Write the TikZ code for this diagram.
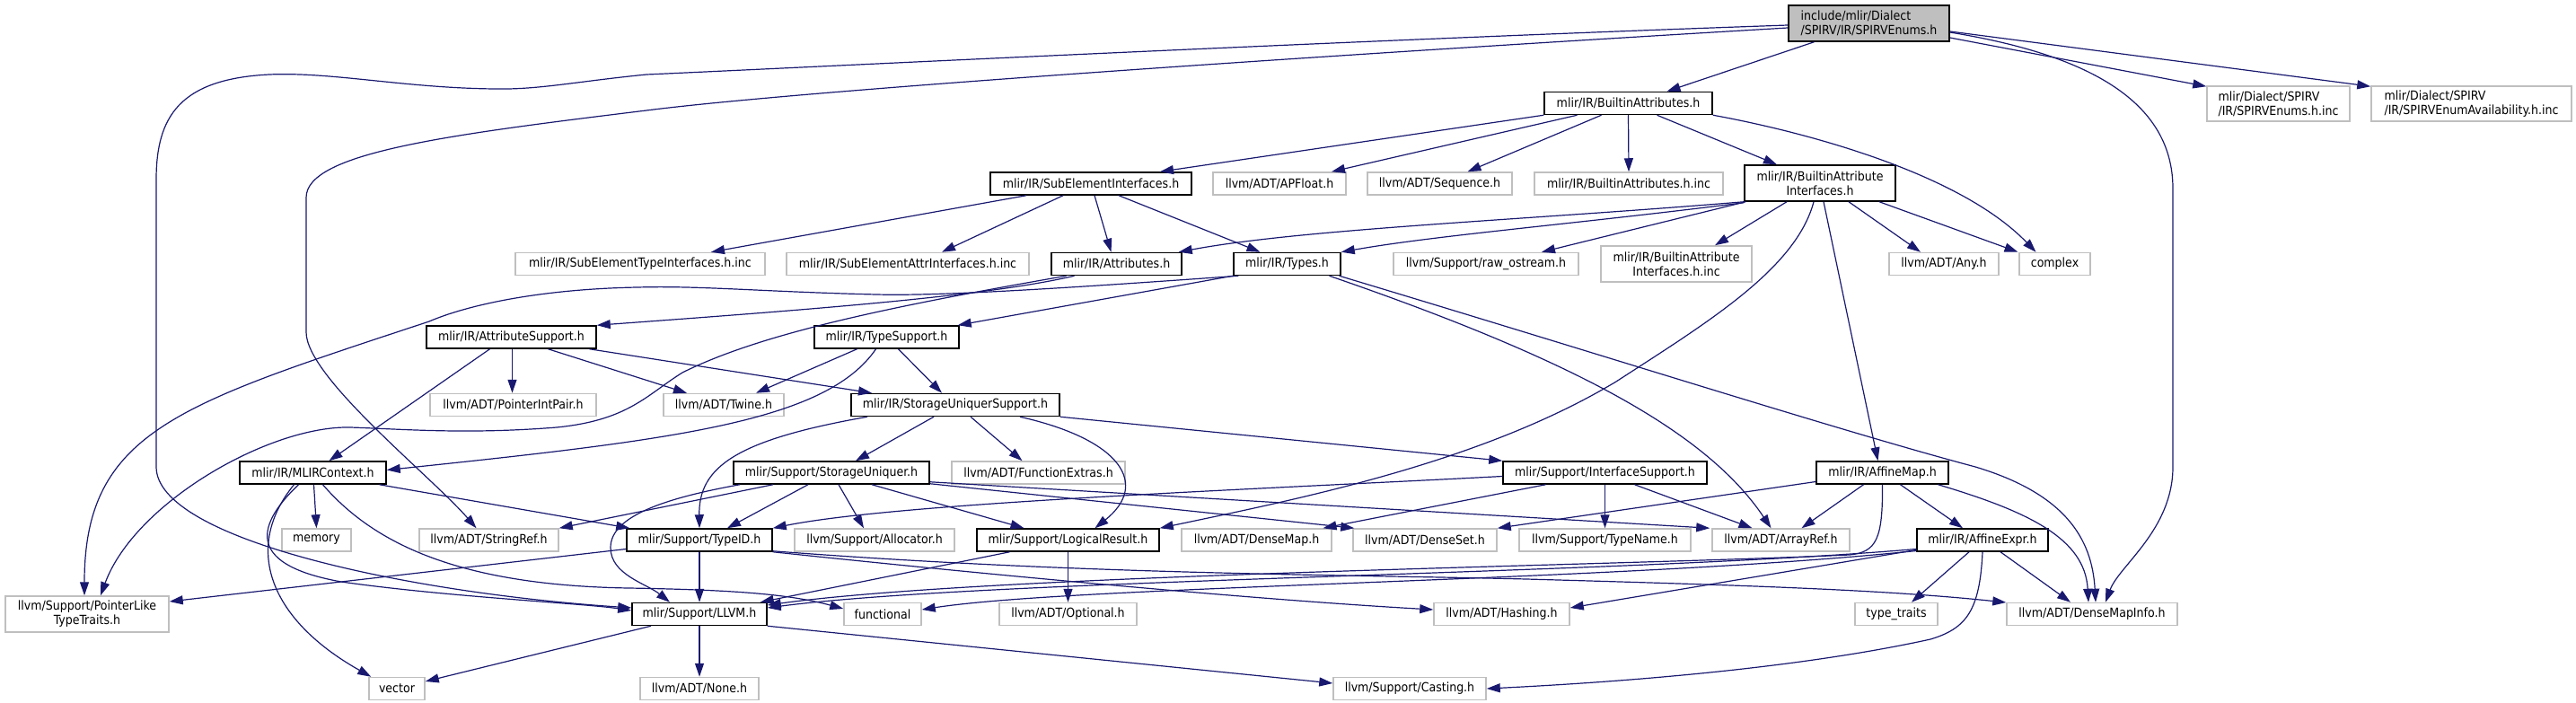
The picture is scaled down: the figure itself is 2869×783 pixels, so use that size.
\documentclass[tikz,border=0pt]{standalone}
\usepackage{fontspec}
\setmainfont{DejaVu Sans Condensed}
\usetikzlibrary{arrows.meta}
\definecolor{edgeblue}{RGB}{25,25,112}
\definecolor{boxgrey}{RGB}{191,191,191}

\begin{document}
\begin{tikzpicture}[x=1pt, y=-1pt,
    file/.style={draw=black, line width=1.5pt, fill=white, inner sep=0pt, minimum height=25pt, font=\fontsize{14}{16}\selectfont},
    extfile/.style={file, draw=boxgrey},
    topfile/.style={file, fill=boxgrey},
    dep/.style={draw=edgeblue, line width=1.2pt, -{Triangle[length=15pt,width=10pt]}}]
  \useasboundingbox (0,0) rectangle (2869,783);

  % include files
  \node[topfile, minimum width=179pt, minimum height=40pt, align=left] (main) at (2081.5,26) {include/mlir/Dialect\\/SPIRV/IR/SPIRVEnums.h};
  \node[file, minimum width=187pt] (bat) at (1813.5,115) {mlir/IR/BuiltinAttributes.h};
  \node[extfile, minimum width=159pt, minimum height=39pt, align=left] (spvinc) at (2537.5,115.5) {mlir/Dialect/SPIRV\\/IR/SPIRVEnums.h.inc};
  \node[extfile, minimum width=223pt, minimum height=39pt, align=left] (spvavail) at (2752.5,115.5) {mlir/Dialect/SPIRV\\/IR/SPIRVEnumAvailability.h.inc};
  \node[file, minimum width=224pt] (sei) at (1215,204.5) {mlir/IR/SubElementInterfaces.h};
  \node[extfile, minimum width=148pt] (apfloat) at (1425,204.5) {llvm/ADT/APFloat.h};
  \node[extfile, minimum width=161pt] (sequence) at (1603.5,204.5) {llvm/ADT/Sequence.h};
  \node[extfile, minimum width=210pt] (batinc) at (1814,204.5) {mlir/IR/BuiltinAttributes.h.inc};
  \node[file, minimum width=168pt, minimum height=40pt, align=center] (bai) at (2027,204) {mlir/IR/BuiltinAttribute\\Interfaces.h};
  \node[extfile, minimum width=278pt] (setinc) at (713,294) {mlir/IR/SubElementTypeInterfaces.h.inc};
  \node[extfile, minimum width=270pt] (seainc) at (1011,294) {mlir/IR/SubElementAttrInterfaces.h.inc};
  \node[file, minimum width=145pt] (attrs) at (1243.5,294) {mlir/IR/Attributes.h};
  \node[file, minimum width=119pt] (types) at (1433.5,294) {mlir/IR/Types.h};
  \node[extfile, minimum width=206pt] (rawos) at (1655,294) {llvm/Support/raw\_ostream.h};
  \node[extfile, minimum width=168pt, minimum height=40pt, align=center] (baiinc) at (1867,294) {mlir/IR/BuiltinAttribute\\Interfaces.h.inc};
  \node[extfile, minimum width=122pt] (any) at (2165,294) {llvm/ADT/Any.h};
  \node[extfile, minimum width=79pt] (complex) at (2288.5,294) {complex};
  \node[file, minimum width=189pt] (attrsup) at (569.5,375.5) {mlir/IR/AttributeSupport.h};
  \node[file, minimum width=161pt] (typesup) at (987.5,375.5) {mlir/IR/TypeSupport.h};
  \node[extfile, minimum width=185pt] (pip) at (571.5,451) {llvm/ADT/PointerIntPair.h};
  \node[extfile, minimum width=134pt] (twine) at (806,451) {llvm/ADT/Twine.h};
  \node[file, minimum width=232pt] (sus) at (1064,451) {mlir/IR/StorageUniquerSupport.h};
  \node[file, minimum width=163pt] (mlirctx) at (348.5,526.5) {mlir/IR/MLIRContext.h};
  \node[file, minimum width=218pt] (su) at (926,526.5) {mlir/Support/StorageUniquer.h};
  \node[extfile, minimum width=193pt] (funcext) at (1156.5,526.5) {llvm/ADT/FunctionExtras.h};
  \node[file, minimum width=227pt] (ifsup) at (1787.5,526.5) {mlir/Support/InterfaceSupport.h};
  \node[file, minimum width=147pt] (affmap) at (2096.5,526.5) {mlir/IR/AffineMap.h};
  \node[extfile, minimum width=77pt] (memory) at (352.5,601.5) {memory};
  \node[extfile, minimum width=155pt] (stringref) at (544.5,601.5) {llvm/ADT/StringRef.h};
  \node[file, minimum width=162pt] (typeid) at (779,601.5) {mlir/Support/TypeID.h};
  \node[extfile, minimum width=178pt] (alloc) at (974,601.5) {llvm/Support/Allocator.h};
  \node[file, minimum width=203pt] (logres) at (1189.5,601.5) {mlir/Support/LogicalResult.h};
  \node[extfile, minimum width=167pt] (densemap) at (1399.5,601.5) {llvm/ADT/DenseMap.h};
  \node[extfile, minimum width=160pt] (denseset) at (1587,601.5) {llvm/ADT/DenseSet.h};
  \node[extfile, minimum width=191pt] (typename) at (1787.5,601.5) {llvm/Support/TypeName.h};
  \node[extfile, minimum width=153pt] (arrayref) at (1983.5,601.5) {llvm/ADT/ArrayRef.h};
  \node[file, minimum width=146pt] (affexpr) at (2208,601.5) {mlir/IR/AffineExpr.h};
  \node[extfile, minimum width=182pt, minimum height=40pt, align=center] (ptrlike) at (97,684) {llvm/Support/PointerLike\\TypeTraits.h};
  \node[file, minimum width=150pt] (llvm) at (779,684) {mlir/Support/LLVM.h};
  \node[extfile, minimum width=86pt] (functional) at (983,684) {functional};
  \node[extfile, minimum width=153pt] (optional) at (1189.5,684) {llvm/ADT/Optional.h};
  \node[extfile, minimum width=151pt] (hashing) at (1672.5,684) {llvm/ADT/Hashing.h};
  \node[extfile, minimum width=92pt] (typetraits) at (2112,684) {type\_traits};
  \node[extfile, minimum width=190pt] (dmi) at (2330,684) {llvm/ADT/DenseMapInfo.h};
  \node[extfile, minimum width=62pt] (vector) at (442,767) {vector};
  \node[extfile, minimum width=132pt] (none) at (779,767) {llvm/ADT/None.h};
  \node[extfile, minimum width=170pt] (casting) at (1570,767) {llvm/Support/Casting.h};

  % SPIRVEnums.h
  \draw[dep] ([xshift=-61pt]main.south) -- ([xshift=43pt]bat.north);
  \draw[dep] ([yshift=-16pt]main.east) -- ([yshift=-1pt]spvinc.north west);
  \draw[dep] ([yshift=-9pt]main.east) -- ([yshift=-1pt]spvavail.north west);
  \draw[dep] ([yshift=-10pt]main.east) .. controls (2320,60) and (2420,110) .. (2420,210) -- (2420,520) .. controls (2420,590) and (2360,630) .. ([xshift=15pt]dmi.north);
  \draw[dep] ([yshift=-2pt]main.west) .. controls (1500,45) and (900,75) .. (720,83) .. controls (640,91) and (600,100) .. (551,99) .. controls (450,98) and (370,80) .. (300,83) .. controls (200,88) and (174,130) .. (174,200) -- (174,520) .. controls (174,600) and (450,660) .. ([yshift=7pt]llvm.west);
  \draw[dep] ([yshift=-5pt]main.west) .. controls (1500,60) and (900,100) .. (720,123) .. controls (500,150) and (341,170) .. (341,220) -- (341,370) .. controls (341,420) and (480,530) .. ([xshift=-14pt]stringref.north);

  % BuiltinAttributes.h
  \draw[dep] (bat.south west) -- ([xshift=77pt]sei.north);
  \draw[dep] ([xshift=-57pt]bat.south) -- ([xshift=58pt]apfloat.north);
  \draw[dep] ([xshift=-30pt]bat.south) -- ([xshift=31pt]sequence.north);
  \draw[dep] (bat.south) -- (batinc.north);
  \draw[dep] ([xshift=32pt]bat.south) -- ([xshift=-48pt]bai.north);
  \draw[dep] (bat.south east) .. controls (2000,145) and (2180,190) .. ([xshift=-21pt]complex.north);

  % BuiltinAttributeInterfaces.h
  \draw[dep] (bai.south west) .. controls (1700,245) and (1450,255) .. ([xshift=-4pt]attrs.north east);
  \draw[dep] ([yshift=-1pt]bai.south west) .. controls (1750,250) and (1600,262) .. (types.north east);
  \draw[dep] ([xshift=2pt]bai.south west) -- ([xshift=62pt]rawos.north);
  \draw[dep] ([xshift=-37pt]bai.south) -- ([xshift=43pt]baiinc.north);
  \draw[dep] ([xshift=-7pt]bai.south) .. controls (2000,300) and (1900,360) .. (1800,425) .. controls (1650,515) and (1450,555) .. (logres.north east);
  \draw[dep] ([xshift=4pt]bai.south) -- ([xshift=-5pt]affmap.north);
  \draw[dep] ([xshift=32pt]bai.south) -- ([xshift=-26pt]any.north);
  \draw[dep] ([xshift=66pt]bai.south) -- ([xshift=-41pt]complex.north);

  % SubElementInterfaces.h
  \draw[dep] ([xshift=-72pt]sei.south) -- ([xshift=79pt]setinc.north);
  \draw[dep] ([xshift=-31pt]sei.south) -- ([xshift=38pt]seainc.north);
  \draw[dep] ([xshift=4pt]sei.south) -- ([xshift=-6pt]attrs.north);
  \draw[dep] ([xshift=31pt]sei.south) -- ([xshift=-30pt]types.north);

  % Types.h and Attributes.h
  \draw[dep] (types.south west) -- ([xshift=-2pt]typesup.north east);
  \draw[dep] ([xshift=6pt]types.south west) .. controls (1200,320) and (1050,330) .. (976,328) .. controls (850,325) and (780,318) .. (710,320) .. controls (600,322) and (520,340) .. (478,358) .. controls (200,450) and (94,480) .. ([xshift=-3pt]ptrlike.north);
  \draw[dep] ([xshift=47pt]types.south) .. controls (1750,400) and (1900,480) .. ([xshift=-11pt]arrayref.north);
  \draw[dep] ([xshift=58pt]types.south) .. controls (1800,400) and (2050,480) .. (2200,520) .. controls (2300,550) and (2330,600) .. ([xshift=4pt]dmi.north);
  \draw[dep] ([xshift=-47pt]attrs.south) .. controls (1100,330) and (900,345) .. (attrsup.north east);
  \draw[dep] ([xshift=-56pt]attrs.south) .. controls (1000,340) and (850,370) .. (760,415) .. controls (720,440) and (700,468) .. (620,476) .. controls (520,484) and (450,478) .. (390,476) .. controls (300,474) and (150,560) .. ([xshift=15pt]ptrlike.north);

  % AttributeSupport.h and TypeSupport.h
  \draw[dep] ([xshift=1pt]attrsup.south) -- ([xshift=-1pt]pip.north);
  \draw[dep] ([xshift=-24pt]attrsup.south) -- ([xshift=18pt]mlirctx.north);
  \draw[dep] ([xshift=41pt]attrsup.south) -- ([xshift=-41pt]twine.north);
  \draw[dep] ([xshift=87pt]attrsup.south) -- ([xshift=-93pt]sus.north);
  \draw[dep] ([xshift=-33pt]typesup.south) -- ([xshift=36pt]twine.north);
  \draw[dep] ([xshift=13pt]typesup.south) -- ([xshift=-15pt]sus.north);
  \draw[dep] ([xshift=-12pt]typesup.south) .. controls (920,470) and (750,490) .. ([yshift=3pt]mlirctx.east);

  % StorageUniquerSupport.h
  \draw[dep] ([xshift=-98pt]sus.south) .. controls (820,490) and (778,520) .. (typeid.north);
  \draw[dep] ([xshift=-24pt]sus.south) -- ([xshift=27pt]su.north);
  \draw[dep] ([xshift=17pt]sus.south) -- ([xshift=-18pt]funcext.north);
  \draw[dep] ([xshift=72pt]sus.south) .. controls (1250,490) and (1280,540) .. ([xshift=30pt]logres.north);
  \draw[dep] (sus.south east) -- (ifsup.north west);

  % StorageUniquer.h
  \draw[dep] ([xshift=-65pt]su.south) -- (stringref.north east);
  \draw[dep] ([xshift=-102pt]su.south) .. controls (740,555) and (680,575) .. (680,610) .. controls (680,640) and (720,650) .. ([xshift=-33pt]llvm.north);
  \draw[dep] ([xshift=-26pt]su.south) -- ([xshift=31pt]typeid.north);
  \draw[dep] ([xshift=8pt]su.south) -- ([xshift=-12pt]alloc.north);
  \draw[dep] ([xshift=45pt]su.south) -- ([xshift=-49pt]logres.north);
  \draw[dep] ([yshift=1pt]su.south east) -- ([xshift=2pt]denseset.north west);
  \draw[dep] ([yshift=3pt]su.south east) -- ([xshift=-2pt]arrayref.north west);

  % InterfaceSupport.h
  \draw[dep] ([yshift=-4pt]ifsup.west) .. controls (1400,545) and (1000,560) .. (typeid.north east);
  \draw[dep] ([xshift=-66pt]ifsup.south) -- ([xshift=74pt]densemap.north);
  \draw[dep] (ifsup.south) -- (typename.north);
  \draw[dep] ([xshift=33pt]ifsup.south) -- ([xshift=-32pt]arrayref.north);

  % MLIRContext.h
  \draw[dep] ([xshift=74pt]mlirctx.south) -- ([xshift=4pt]typeid.north west);
  \draw[dep] ([xshift=-16pt]mlirctx.south) .. controls (280,590) and (280,630) .. (380,648) .. controls (500,665) and (650,672) .. ([yshift=4pt]llvm.west);
  \draw[dep] ([xshift=-21pt]mlirctx.south) .. controls (270,610) and (300,690) .. ([xshift=3pt]vector.north west);
  \draw[dep] ([xshift=1pt]mlirctx.south) -- (memory.north);
  \draw[dep] ([xshift=11pt]mlirctx.south) .. controls (420,610) and (520,652) .. (700,655) .. controls (820,657) and (880,662) .. ([yshift=6pt]functional.west);

  % TypeID.h and LogicalResult.h
  \draw[dep] ([yshift=-10pt]typeid.west) -- ([yshift=14pt]ptrlike.east);
  \draw[dep] (typeid.south) -- (llvm.north);
  \draw[dep] (typeid.south east) .. controls (1100,640) and (1400,668) .. ([yshift=5pt]hashing.west);
  \draw[dep] ([yshift=1pt]typeid.south east) .. controls (1200,640) and (1500,640) .. (1700,645) .. controls (1950,652) and (2100,657) .. ([yshift=13pt]dmi.west);
  \draw[dep] ([xshift=-65pt]logres.south) -- ([xshift=-8pt]llvm.north east);
  \draw[dep] (logres.south) -- (optional.north);

  % AffineMap.h and AffineExpr.h
  \draw[dep] ([yshift=-10pt]affmap.west) -- (denseset.north east);
  \draw[dep] ([xshift=-21pt]affmap.south) -- ([xshift=23pt]arrayref.north);
  \draw[dep] ([xshift=20pt]affmap.south) -- ([xshift=-22pt]affexpr.north);
  \draw[dep] ([xshift=62pt]affmap.south) .. controls (2260,570) and (2322,600) .. ([xshift=-4pt]dmi.north);
  \draw[dep] (affmap.south) .. controls (2097,600) and (2090,615) .. (2060,618) .. controls (1800,630) and (1100,640) .. ([yshift=10pt]llvm.east);
  \draw[dep] ([yshift=-10pt]affexpr.west) .. controls (1800,640) and (1100,645) .. ([yshift=7pt]llvm.east);
  \draw[dep] ([yshift=-12pt]affexpr.west) .. controls (1800,648) and (1200,652) .. ([yshift=5pt]functional.east);
  \draw[dep] ([yshift=-11pt]affexpr.west) -- ([yshift=7pt]hashing.east);
  \draw[dep] ([xshift=-15pt]affexpr.south) -- ([xshift=17pt]typetraits.north);
  \draw[dep] ([xshift=20pt]affexpr.south) -- ([xshift=-24pt]dmi.north);
  \draw[dep] (affexpr.south) .. controls (2205,680) and (2190,700) .. (2150,712) .. controls (2000,745) and (1800,760) .. (casting.east);

  % LLVM.h
  \draw[dep] (llvm.south) -- (none.north);
  \draw[dep] ([xshift=-54pt]llvm.south) -- ([yshift=8pt]vector.east);
  \draw[dep] (llvm.south east) -- ([yshift=6pt]casting.west);
\end{tikzpicture}
\end{document}
